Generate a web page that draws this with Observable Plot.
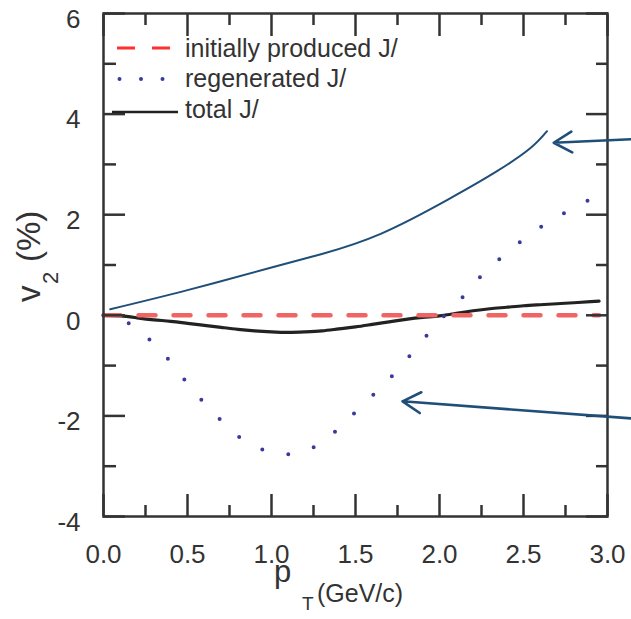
<!DOCTYPE html>
<html>
<head>
<meta charset="utf-8">
<script src="https://cdn.jsdelivr.net/npm/d3@7"></script>
<script src="https://cdn.jsdelivr.net/npm/@observablehq/plot@0.6"></script>
<style>
html, body { margin: 0; padding: 0; background: #fff; }
#chart svg { display: block; }
</style>
</head>
<body>
<div id="chart"></div>
<script>
// ---- tick values ----
const xMajor = [0, 0.5, 1, 1.5, 2, 2.5, 3];
const xMinor = [0.25, 0.75, 1.25, 1.75, 2.25, 2.75];
const yMajor = [-4, -2, 0, 2, 4, 6];
const yMinor = [-3, -1, 1, 3, 5];

// ---- series: initially produced J/ (v2 = 0) ----
const initPt = [0, 2.95];
const initV2 = [0, 0];

// ---- series: total J/ ----
const totalPt = [0, 0.1, 0.2, 0.3, 0.4, 0.5, 0.6, 0.7, 0.8, 0.9, 1.0, 1.1, 1.2, 1.3, 1.4, 1.5, 1.6, 1.7, 1.8, 1.9, 2.0, 2.1, 2.2, 2.3, 2.4, 2.5, 2.6, 2.7, 2.8, 2.9, 2.95];
const totalV2 = [0, -0.01, -0.05, -0.09, -0.12, -0.16, -0.2, -0.24, -0.28, -0.31, -0.33, -0.34, -0.33, -0.31, -0.27, -0.23, -0.18, -0.13, -0.08, -0.04, -0.01, 0.04, 0.09, 0.13, 0.16, 0.19, 0.21, 0.23, 0.25, 0.27, 0.28];

// ---- series: regenerated J/ ----
const regenPt = [0, 0.14, 0.26, 0.38, 0.48, 0.58, 0.70, 0.82, 0.94, 1.07, 1.2, 1.3, 1.4, 1.5, 1.6, 1.67, 1.78, 1.9, 1.99, 2.11, 2.22, 2.34, 2.47, 2.60, 2.72, 2.84, 2.9];
const regenV2 = [0, -0.14, -0.44, -0.85, -1.27, -1.67, -2.09, -2.45, -2.66, -2.76, -2.7, -2.52, -2.25, -1.92, -1.6, -1.38, -0.97, -0.5, -0.14, 0.26, 0.68, 1.07, 1.43, 1.75, 1.99, 2.21, 2.3];

// ---- hand-drawn annotation curve ----
const notePt = [0.04, 0.5, 1.0, 1.3, 1.65, 2.05, 2.34, 2.54, 2.64];
const noteV2 = [0.12, 0.5, 0.95, 1.22, 1.62, 2.3, 2.86, 3.32, 3.66];

// ---- annotation arrows (tail -> head) ----
const arrowFromPt = [3.14, 3.14];
const arrowFromV2 = [3.5, -2.05];
const arrowToPt = [2.68, 1.78];
const arrowToV2 = [3.43, -1.71];

// ---- legend labels ----
const legendLabels = ["initially produced J/", "regenerated J/", "total J/"];

const rows = (xs, ys) => xs.map((x, i) => ({x, y: ys[i]}));
const arrows = arrowFromPt.map((d, i) => ({x1: d, y1: arrowFromV2[i], x2: arrowToPt[i], y2: arrowToV2[i]}));

const FONT = '"Liberation Sans", Arial, Helvetica, sans-serif';
const INK = "#333";

const svg = Plot.plot({
  width: 631,
  height: 619,
  marginLeft: 103,
  marginRight: 24,
  marginTop: 13,
  marginBottom: 103,
  x: {domain: [0, 3]},
  y: {domain: [-4, 6]},
  style: {fontFamily: FONT, color: INK, background: "#fff", overflow: "visible"},
  marks: [
    Plot.line(rows(notePt, noteV2), {x: "x", y: "y", curve: "natural", stroke: "#1f4e79", strokeWidth: 2}),
    Plot.line(rows(totalPt, totalV2), {x: "x", y: "y", curve: "natural", stroke: "#222", strokeWidth: 3.2}),
    Plot.line(rows(initPt, initV2), {x: "x", y: "y", stroke: "#f06464", strokeWidth: 4.5, strokeDasharray: "17,18"}),
    Plot.line(rows(regenPt, regenV2), {x: "x", y: "y", curve: "natural", stroke: "#3a3a9c", strokeWidth: 4, strokeLinecap: "round", strokeDasharray: "0,26.5"}),
    Plot.frame({stroke: INK, strokeWidth: 2.5}),
    Plot.axisX({ticks: xMajor, anchor: "bottom", tickSize: -22, tickFormat: () => "", stroke: INK, strokeWidth: 2.5, label: null}),
    Plot.axisX({ticks: xMinor, anchor: "bottom", tickSize: -11, tickFormat: () => "", stroke: INK, strokeWidth: 2.5, label: null}),
    Plot.axisX({ticks: xMajor, anchor: "top", tickSize: -22, tickFormat: () => "", stroke: INK, strokeWidth: 2.5, label: null}),
    Plot.axisX({ticks: xMinor, anchor: "top", tickSize: -11, tickFormat: () => "", stroke: INK, strokeWidth: 2.5, label: null}),
    Plot.axisY({ticks: yMajor, anchor: "left", tickSize: -22, tickFormat: () => "", stroke: INK, strokeWidth: 2.5, label: null}),
    Plot.axisY({ticks: yMinor, anchor: "left", tickSize: -13, tickFormat: () => "", stroke: INK, strokeWidth: 2.5, label: null}),
    Plot.axisY({ticks: yMajor, anchor: "right", tickSize: -22, tickFormat: () => "", stroke: INK, strokeWidth: 2.5, label: null}),
    Plot.axisY({ticks: yMinor, anchor: "right", tickSize: -12, tickFormat: () => "", stroke: INK, strokeWidth: 2.5, label: null}),
    Plot.axisX({ticks: xMajor, anchor: "bottom", tickSize: 0, tickPadding: 28, tickFormat: d => d.toFixed(1), fontSize: 26, fill: INK, label: null}),
    Plot.axisY({ticks: yMajor, anchor: "left", tickSize: 0, tickPadding: 23, dy: 6, tickFormat: d => String(d), fontSize: 26, fill: INK, label: null}),
    Plot.arrow(arrows, {x1: "x1", y1: "y1", x2: "x2", y2: "y2", stroke: "#1f4e79", strokeWidth: 2.6, headLength: 12, headAngle: 60, clip: false})
  ]
});

const root = d3.select(svg);

// ---- legend (inside the frame, top left) ----
const leg = root.append("g").attr("font-family", FONT).attr("font-size", 25).attr("fill", INK).attr("text-anchor", "start");
leg.append("line").attr("x1", 117).attr("x2", 170).attr("y1", 48).attr("y2", 48)
  .attr("stroke", "#ff3030").attr("stroke-width", 3).attr("stroke-dasharray", "18,17");
leg.append("line").attr("x1", 119.5).attr("x2", 164).attr("y1", 79).attr("y2", 79)
  .attr("stroke", "#3a3a9c").attr("stroke-width", 4).attr("stroke-linecap", "round").attr("stroke-dasharray", "0,21.5");
leg.append("line").attr("x1", 112).attr("x2", 178).attr("y1", 112).attr("y2", 112)
  .attr("stroke", "#222").attr("stroke-width", 2.6);
const legY = [57, 87, 118];
legendLabels.forEach((t, i) => {
  leg.append("text").attr("x", 185).attr("y", legY[i]).attr("text-anchor", "start").text(t);
});

// ---- x axis title: pT (GeV/c) ----
const xt = root.append("text").attr("font-family", FONT).attr("fill", INK).attr("text-anchor", "start");
xt.append("tspan").attr("x", 274).attr("y", 582).attr("font-size", 31).text("p");
xt.append("tspan").attr("x", 302).attr("y", 610).attr("font-size", 19).text("T");
xt.append("tspan").attr("x", 317).attr("y", 602).attr("font-size", 25).text("(GeV/c)");

// ---- y axis title: v2 (%) ----
const yt = root.append("text").attr("font-family", FONT).attr("fill", INK).attr("text-anchor", "start").attr("transform", "rotate(-90)");
yt.append("tspan").attr("x", -302).attr("y", 40).attr("font-size", 33).text("v");
yt.append("tspan").attr("x", -284).attr("y", 58).attr("font-size", 22).text("2");
yt.append("tspan").attr("x", -262).attr("y", 40).attr("font-size", 33).text("(%)");

document.getElementById("chart").appendChild(svg);
</script>
</body>
</html>
